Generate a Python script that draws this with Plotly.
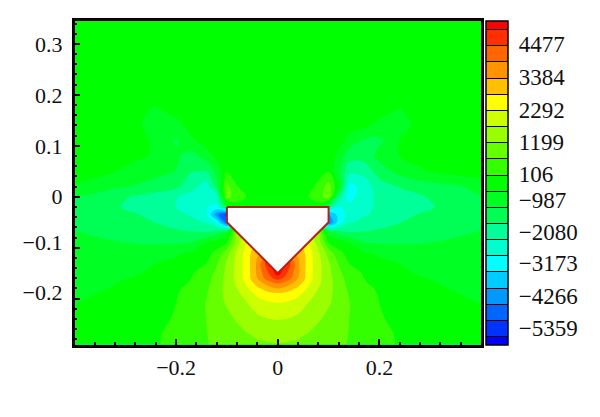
import plotly.graph_objects as go

x_values = [-0.4,-0.36,-0.32,-0.28,-0.24,-0.2,-0.17,-0.14,-0.12,-0.1,-0.08,-0.06,-0.04,-0.02,0,
            0.02,0.04,0.06,0.08,0.1,0.12,0.14,0.17,0.2,0.24,0.28,0.32,0.36,0.4]
y_values = [0.345,0.25,0.2,0.17,0.14,0.11,0.08,0.05,0.02,0,-0.02,-0.035,-0.05,-0.07,-0.09,-0.11,-0.13,
            -0.15,-0.16,-0.17,-0.18,-0.19,-0.21,-0.24,-0.27,-0.29]
z_values = [
 [-60,-60,-60,-60,-60,-60,-60,-60,-60,-60,-60,-60,-60,-60,-60,-60,-60,-60,-60,-60,-60,-60,-60,-60,-60,-60,-60,-60,-60],
 [-80,-80,-80,-80,-80,-80,-80,-80,-80,-80,-80,-80,-80,-80,-80,-80,-80,-80,-80,-80,-80,-80,-80,-80,-80,-80,-80,-80,-80],
 [-80,-80,-80,-120,-220,-120,-80,-80,-80,-80,-80,-80,-80,-80,-80,-80,-80,-80,-80,-80,-80,-80,-80,-100,-180,-100,-80,-80,-80],
 [-80,-80,-100,-300,-520,-230,-100,-80,-80,-80,-80,-80,-80,-80,-80,-80,-80,-80,-80,-80,-80,-100,-120,-220,-480,-200,-90,-80,-80],
 [-80,-90,-120,-250,-800,-650,-220,-90,-80,-80,-80,-80,-80,-80,-80,-80,-80,-80,-80,-80,-80,-200,-300,-600,-750,-180,-90,-80,-80],
 [-80,-90,-130,-260,-520,-1050,-550,-150,-90,-80,-80,-80,-80,-80,-80,-80,-80,-80,-80,-80,-150,-650,-1100,-1100,-420,-150,-90,-80,-80],
 [-80,-90,-180,-320,-520,-900,-1200,-700,-280,-90,-80,-80,-80,-80,-80,-80,-80,-80,-80,-100,-600,-1300,-1300,-820,-430,-220,-120,-90,-80],
 [-100,-220,-430,-700,-820,-1000,-1500,-1560,-800,60,-60,-80,-80,-80,-80,-80,-80,-80,-70,80,-900,-1900,-1900,-1250,-800,-520,-320,-200,-140],
 [-520,-720,-900,-1020,-1200,-1400,-1900,-2350,-1300,800,120,-70,-80,-80,-80,-80,-80,-70,220,900,-350,-2850,-2400,-1800,-1500,-1300,-1150,-1000,-800],
 [-1000,-1120,-1350,-1600,-1780,-2050,-2250,-2500,-2300,900,320,80,-60,-80,-80,-80,-60,80,350,1000,-1700,-2850,-2300,-1950,-1780,-1600,-1350,-1120,-1000],
 [-1020,-1250,-1480,-1680,-1850,-2100,-2350,-2600,-2750,-1000,-100,-80,-80,-80,-80,-80,-80,-80,-100,-1600,-2650,-2500,-2200,-2000,-1850,-1680,-1480,-1250,-1020],
 [-1050,-1200,-1350,-1500,-1700,-1900,-2150,-2550,-4100,-5000,-3000,-1000,-500,-300,-300,-300,-500,-1000,-2000,-3700,-3000,-2400,-2150,-1900,-1700,-1500,-1350,-1200,-1050],
 [-1080,-1130,-1250,-1400,-1550,-1700,-1900,-2150,-2750,-4600,-1500,-800,-300,-200,-200,-200,-300,-800,-1500,-4400,-2900,-2150,-1900,-1700,-1550,-1400,-1250,-1130,-1080],
 [-960,-1050,-1150,-1250,-1350,-1450,-1500,-1500,-1300,-700,1200,2000,2400,2400,2400,2400,2400,2000,1200,-700,-1300,-1500,-1500,-1450,-1350,-1250,-1150,-1050,-960],
 [-800,-880,-960,-1020,-1050,-1040,-980,-420,-150,100,1500,2300,3000,3000,3000,3000,3000,2300,1500,100,-150,-420,-980,-1040,-1050,-1020,-960,-880,-800],
 [-700,-720,-750,-750,-720,-550,-380,-50,230,960,1830,2600,3300,3400,3500,3400,3300,2600,1830,960,230,-50,-380,-550,-720,-750,-750,-720,-700],
 [-620,-620,-610,-560,-450,-300,-100,106,600,1270,1930,2600,3500,4800,5300,4800,3500,2600,1930,1270,600,106,-100,-300,-450,-560,-610,-620,-620],
 [-560,-550,-520,-470,-380,-220,50,400,770,1350,1930,2570,3500,4400,5300,4400,3500,2570,1930,1350,770,400,50,-220,-380,-470,-520,-550,-560],
 [-530,-510,-480,-420,-330,-100,106,480,850,1400,1900,2600,3384,4200,4700,4200,3384,2600,1900,1400,850,480,106,-100,-330,-420,-480,-510,-530],
 [-500,-480,-445,-385,-290,-60,160,520,900,1400,1850,2400,3100,3600,3950,3600,3100,2400,1850,1400,900,520,160,-60,-290,-385,-445,-480,-500],
 [-480,-460,-430,-360,-250,30,240,560,950,1380,1745,2220,2700,3150,3400,3150,2700,2220,1745,1380,950,560,240,30,-250,-360,-430,-460,-480],
 [-465,-445,-400,-330,-220,70,300,620,980,1340,1620,2030,2450,2650,2780,2650,2450,2030,1620,1340,980,620,300,70,-220,-330,-400,-445,-465],
 [-445,-415,-350,-270,-150,106,350,680,1000,1250,1450,1720,2000,2180,2250,2180,2000,1720,1450,1250,1000,680,350,106,-150,-270,-350,-415,-445],
 [-380,-330,-270,-180,-60,170,370,660,880,1050,1260,1470,1620,1730,1770,1730,1620,1470,1260,1050,880,660,370,170,-60,-180,-270,-330,-380],
 [-310,-270,-200,-110,60,220,370,640,790,900,1020,1170,1290,1350,1380,1350,1290,1170,1020,900,790,640,370,220,60,-110,-200,-270,-310],
 [-260,-220,-160,-70,70,220,360,620,760,850,950,1040,1110,1150,1170,1150,1110,1040,950,850,760,620,360,220,70,-70,-160,-220,-260],
]
level_start = -5359
level_end = 5023
level_size = 546.4
bar_low = -5664
bar_high = 5300
band_colors = ["#0000ff","#0033ff","#0066ff","#0099ff","#00ccff","#00ffff","#00ffcc","#00ff99","#00ff55","#00ff22",
               "#00ff00","#33ff00","#66ff00","#99ff00","#ccff00","#ffff00","#ffc000","#ff9400","#ff6600","#ff2f00","#ff0000"]
bar_tick_values = [4512,3392,2307,1221,136,-746,-1831,-2883,-4002,-5088]
bar_tick_labels = ["4477","3384","2292","1199","106","−987","−2080","−3173","−4266","−5359"]
body_x = [-0.1,0.1,0.1,0,-0.1,-0.1]
body_y = [-0.02,-0.02,-0.05,-0.15,-0.05,-0.02]
x_ticks = [-0.2,0,0.2]
x_labels = ["−0.2","0","0.2"]
y_ticks = [0.3,0.2,0.1,0,-0.1,-0.2]
y_label_values = [0.3,0.2,0.1,0,-0.089,-0.188]
y_labels = ["0.3","0.2","0.1","0","−0.1","−0.2"]

n = len(band_colors)
edges = [0.0] + [(level_start + k * level_size - bar_low) / (bar_high - bar_low) for k in range(n - 1)] + [1.0]
scale = []
for i, c in enumerate(band_colors):
    scale += [[edges[i], c], [edges[i + 1], c]]
contours = dict(start=level_start, end=level_end, size=level_size, coloring="fill", showlines=True)
FONT = "Liberation Serif"
W, H = 600, 417
PAGE = 8  # the page body offsets the figure
L, R, T, B = 74.5 - PAGE, 481 - PAGE, 21 - PAGE, 345 - PAGE

fig = go.Figure()
# Carrier of the colour bar: its black level lines show in the bar and are hidden under the field below.
fig.add_trace(go.Contour(x=x_values, y=y_values, z=z_values, zmin=bar_low, zmax=bar_high, autocontour=False,
    contours=contours, colorscale=scale, line=dict(color="black", width=1, smoothing=1),
    hoverinfo="skip", showscale=True,
    colorbar=dict(x=(486 - PAGE) / W, xanchor="left", xpad=0, ypad=0, y=1 - B / H, yanchor="bottom",
                  len=(B - T) / H, lenmode="fraction", thickness=22, thicknessmode="pixels",
                  outlinecolor="black", outlinewidth=1.5, borderwidth=0,
                  tickmode="array", tickvals=bar_tick_values, ticktext=bar_tick_labels,
                  ticks="outside", ticklen=6, tickcolor="rgba(0,0,0,0)",
                  tickfont=dict(family=FONT, size=23, color="#111"))))
fig.add_trace(go.Contour(x=x_values, y=y_values, z=z_values, zmin=bar_low, zmax=bar_high, autocontour=False,
    contours=dict(start=level_start, end=level_end, size=level_size, coloring="fill", showlines=False),
    colorscale=scale, line=dict(width=0, smoothing=1), showscale=False))
fig.add_trace(go.Scatter(x=body_x, y=body_y, yaxis="y2", mode="lines", fill="toself", fillcolor="white",
                         line=dict(color="#b3201c", width=2), showlegend=False))

fig.update_layout(
    width=W, height=H, autosize=False, margin=dict(l=0, r=0, t=0, b=0),
    paper_bgcolor="white", plot_bgcolor="white", showlegend=False,
    font=dict(family=FONT, size=22, color="#111"),
    xaxis=dict(domain=[L / W, R / W], range=[-0.4, 0.4], tickmode="array", tickvals=x_ticks, ticktext=x_labels,
               ticks="inside", ticklen=6, tickwidth=1.5, tickcolor="black", showgrid=False, zeroline=False,
               showline=True, linecolor="black", linewidth=2.5, mirror=True,
               minor=dict(dtick=0.04, tick0=0, ticks="inside", ticklen=3, tickwidth=1.5, tickcolor="black", showgrid=False),
               tickfont=dict(family=FONT, size=22, color="#111"), ticklabelstandoff=1),
    yaxis=dict(domain=[1 - B / H, 1 - T / H], range=[-0.291, 0.345], tickmode="array", tickvals=y_ticks,
               showticklabels=False,
               ticks="inside", ticklen=6, tickwidth=1.5, tickcolor="black", showgrid=False, zeroline=False,
               showline=True, linecolor="black", linewidth=2.5, mirror=True,
               minor=dict(dtick=0.02, tick0=0, ticks="inside", ticklen=3, tickwidth=1.5, tickcolor="black", showgrid=False)),
    yaxis2=dict(overlaying="y", side="left", range=[-0.291, 0.345], tickmode="array",
                tickvals=y_label_values, ticktext=y_labels, ticks="", showgrid=False, zeroline=False, showline=False,
                tickfont=dict(family=FONT, size=22, color="#111"), ticklabelstandoff=11),
)
fig.write_html("out.html")
